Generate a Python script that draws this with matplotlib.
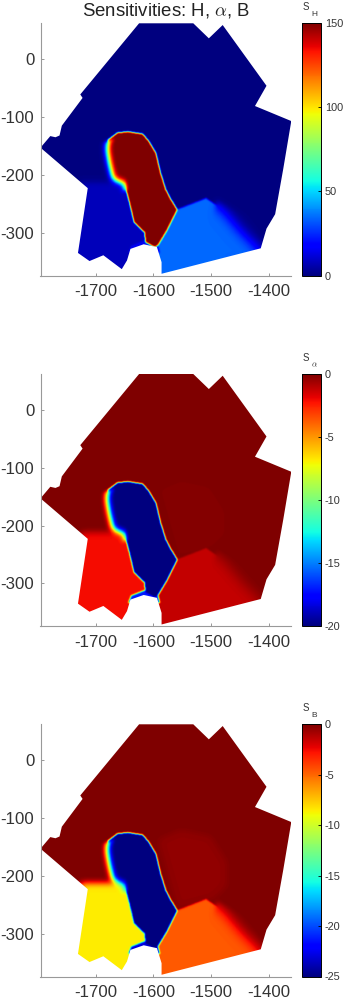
import numpy as np
import matplotlib
matplotlib.use("Agg")
import matplotlib.pyplot as plt
from matplotlib.path import Path
from matplotlib.patches import Polygon

plt.rcParams['font.family'] = ['Liberation Sans', 'DejaVu Sans']
plt.rcParams['mathtext.fontset'] = 'cm'
plt.rcParams['axes.unicode_minus'] = False

# outlines in map coordinates
domain = [(-1796, -153), (-1779, -133), (-1770, -135), (-1763, -132), (-1759, -115), (-1723, -67),
          (-1727, -61), (-1625, 62), (-1531, 62), (-1504, 36), (-1480, 59),
          (-1404, -46), (-1424, -81), (-1361, -107), (-1375, -190), (-1389, -268),
          (-1404, -293), (-1414, -327), (-1586, -371), (-1586, -351), (-1594, -325),
          (-1617, -320), (-1640, -328), (-1646, -348), (-1655, -363), (-1687, -339),
          (-1711, -349), (-1731, -335), (-1714, -223)]
glacier = [(-1680, -139), (-1664, -127), (-1646, -125), (-1620, -129), (-1609, -142),
           (-1597, -162), (-1589, -196), (-1580, -225), (-1571, -242), (-1560, -260),
           (-1574, -288), (-1580, -299), (-1594, -322), (-1599, -325), (-1615, -316),
           (-1617, -299), (-1635, -282), (-1643, -248), (-1652, -214), (-1666, -210),
           (-1672, -205), (-1678, -179), (-1682, -156)]
west = [(-1727, -213), (-1640, -213), (-1590, -320), (-1612, -335), (-1646, -375), (-1739, -375)]
east = [(-1562, -260), (-1510, -240), (-1482, -259), (-1453, -293), (-1415, -331),
        (-1404, -356), (-1586, -385), (-1600, -325)]
north = [(-1594, -137), (-1554, -120), (-1502, -131), (-1473, -177), (-1473, -217),
         (-1496, -240), (-1560, -257)]
strip = [(-1640, -322), (-1617, -313), (-1594, -319), (-1590, -335), (-1617, -335), (-1645, -335)]

# areas where the transition is soft
soft_zone = [(-1695, -144), (-1669, -139), (-1664, -185), (-1646, -202), (-1646, -225),
             (-1660, -232), (-1736, -232), (-1736, -190), (-1698, -185)]
softer_zone = [(-1490, -242), (-1438, -270), (-1392, -339), (-1461, -351), (-1508, -295)]

# one value per area, for each panel
background_values = [0.5, 0.0, 0.0]
north_values = [0.5, -0.1, -0.4]
west_values = [8, -2.05, -8.5]
east_values = [34, -1.2, -4.6]
strip_values = [15, -17, -23]
glacier_values = [150, -20, -25]

vmins = [0, -20, -25]
vmaxs = [150, 0, 0]
bar_ticks = [[0, 50, 100, 150],
             [-20, -15, -10, -5, 0],
             [-25, -20, -15, -10, -5, 0]]
bar_subs = ['H', '$\\alpha$', 'B']

x_ticks = [-1700, -1600, -1500, -1400]
y_ticks = [0, -100, -200, -300]
xlim = (-1796, -1361.5)
ylim = (-374, 62)

tops = [23.3, 374, 724.3]
W, H = 356, 1000


def blur(a, sigma):
    r = int(3 * sigma)
    k = np.exp(-0.5 * (np.arange(-r, r + 1) / sigma) ** 2)
    k = k / k.sum()
    pad = np.pad(a, r, mode='edge')
    pad = np.apply_along_axis(lambda m: np.convolve(m, k, mode='same'), 0, pad)
    pad = np.apply_along_axis(lambda m: np.convolve(m, k, mode='same'), 1, pad)
    return pad[r:-r, r:-r]


gx = np.arange(xlim[0], xlim[1] + 1, 1.0)
gy = np.arange(ylim[0], ylim[1] + 1, 1.0)
xx, yy = np.meshgrid(gx, gy)
pts = np.column_stack((xx.ravel(), yy.ravel()))


def inside(poly):
    return Path(poly).contains_points(pts).reshape(xx.shape)


w_north = blur(inside(north).astype(float), 6)
m_west = inside(west)
m_east = inside(east)
m_strip = inside(strip)
m_glacier = inside(glacier)
w_soft = blur(inside(soft_zone).astype(float), 3)
w_softer = blur(inside(softer_zone).astype(float), 4)

fig = plt.figure(figsize=(W / 100, H / 100), dpi=100)

for i in range(3):
    field = background_values[i] + (north_values[i] - background_values[i]) * w_north
    field[m_west] = west_values[i]
    field[m_east] = east_values[i]
    field[m_strip] = strip_values[i]
    field[m_glacier] = glacier_values[i]
    sharp = blur(field, 1.3)
    mid = blur(field, 5.5)
    wide = blur(field, 11)
    field = sharp * (1 - w_soft - w_softer) + mid * w_soft + wide * w_softer

    top = tops[i]
    ax = fig.add_axes([40.5 / W, 1 - (top + 252.2) / H, 250.5 / W, 252.2 / H])
    im = ax.imshow(field, origin='lower', extent=(gx[0], gx[-1], gy[0], gy[-1]),
                   cmap='jet', vmin=vmins[i], vmax=vmaxs[i], aspect='auto',
                   interpolation='bilinear')
    patch = Polygon(domain, closed=True, transform=ax.transData, fc='none', ec='none')
    ax.add_patch(patch)
    im.set_clip_path(patch)
    ax.set_xlim(xlim)
    ax.set_ylim(ylim)
    ax.set_xticks(x_ticks)
    ax.set_yticks(y_ticks)
    ax.tick_params(direction='in', length=2.5, width=0.6, color='#888888',
                   labelsize=12.1, labelcolor='#333333', pad=6)
    ax.tick_params(axis='y', pad=4.4)
    ax.spines['top'].set_visible(False)
    ax.spines['right'].set_visible(False)
    ax.spines['left'].set_color('#999999')
    ax.spines['bottom'].set_color('#999999')

    cax = fig.add_axes([301.7 / W, 1 - (top + 252.2) / H, 19 / W, 252.2 / H])
    cb = fig.colorbar(im, cax=cax)
    cb.set_ticks(bar_ticks[i])
    cb.ax.tick_params(direction='in', length=2.5, width=0.6, labelsize=7.8,
                      color='black', labelcolor='#333333', pad=3)
    cb.outline.set_linewidth(0.7)
    cb.outline.set_edgecolor('black')
    fig.text(303 / W, 1 - (top - 13) / H, 'S', fontsize=7, color='#333333',
             ha='left', va='baseline')
    fig.text(311 / W, 1 - (top - 7) / H, bar_subs[i], fontsize=6, color='#333333',
             ha='left', va='baseline')

fig.text(166 / W, 1 - 10.5 / H, 'Sensitivities: H, $\\alpha$, B', fontsize=13.4,
         color='#222222', ha='center', va='center')

fig.savefig('out.png', dpi=100)
